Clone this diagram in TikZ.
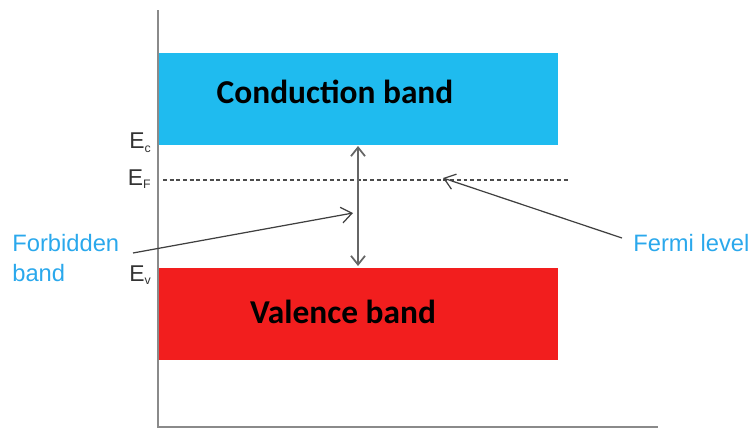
\documentclass[tikz,border=0pt]{standalone}
\usepackage{fontspec}
\setmainfont{Liberation Sans}
\newfontfamily\calib{Carlito}
\usetikzlibrary{arrows.meta}
\definecolor{cband}{HTML}{1FBBEF}
\definecolor{vband}{HTML}{F21E1E}
\definecolor{lblue}{HTML}{2AA8EC}
\definecolor{axisgray}{HTML}{8A8A8A}
\definecolor{lvl}{HTML}{333333}
\tikzset{
  x=0.2mm, y=-0.2mm,
  band/.style={draw=none, minimum width=399*0.2mm, minimum height=92*0.2mm, inner sep=0pt, anchor=north west},
  bandtext/.style={font=\calib\bfseries\fontsize{19}{21}\selectfont, text=black, inner sep=0pt},
  elabel/.style={font=\fontsize{13}{15}\selectfont, text=lvl, inner sep=0pt, anchor=east},
  bluetext/.style={font=\fontsize{13.5}{17}\selectfont, text=lblue, inner sep=0pt, align=left},
  axisline/.style={draw=axisgray, line width=1.4pt},
  pointer/.style={draw=black!75, line width=0.7pt, -{Straight Barb[length=6pt,width=9pt]}},
  gap/.style={draw=black!60, line width=1pt, {Straight Barb[length=5pt,width=8pt]}-{Straight Barb[length=5pt,width=8pt]}}
}
\begin{document}
\begin{tikzpicture}
\useasboundingbox (0,0) rectangle (750,429);
% axes
\coordinate (top) at (158,10);
\coordinate (orig) at (158,427);
\coordinate (xend) at (658,427);
\draw[axisline] (top) -- (orig) -- (xend);
% bands
\node[band, fill=cband] (cb) at (159,53) {};
\node[band, fill=vband] (vb) at (159,268) {};
\node[bandtext] (cbt) at (335,92) {Conduction band};
\node[bandtext] (vbt) at (343,312) {Valence band};
% levels
\node[elabel] (ec) at (151,143) {E\raisebox{-0.3ex}{\fontsize{7}{8}\selectfont c}};
\node[elabel] (ef) at (151,179) {E\raisebox{-0.3ex}{\fontsize{7}{8}\selectfont F}};
\node[elabel] (ev) at (151,275) {E\raisebox{-0.3ex}{\fontsize{7}{8}\selectfont v}};
\coordinate (fl0) at (163,180);
\coordinate (fl1) at (568,180);
\draw[black!70, line width=0.6pt, dash pattern=on 2.2pt off 1.6pt] (fl0) -- (fl1);
% gap arrow
\coordinate (gtop) at (358,146);
\coordinate (gbot) at (358,266);
\draw[gap] (gtop) -- (gbot);
% labels
\node[bluetext, anchor=north west] (fb) at (12,234) {Forbidden\\band};
\node[bluetext, anchor=west] (fermi) at (633,243) {Fermi level};
\coordinate (fbs) at (133,253);
\coordinate (fbe) at (353,213);
\draw[pointer] (fbs) -- (fbe);
\coordinate (fls) at (622,238);
\coordinate (fle) at (443,178);
\draw[pointer] (fls) -- (fle);
\end{tikzpicture}
\end{document}
